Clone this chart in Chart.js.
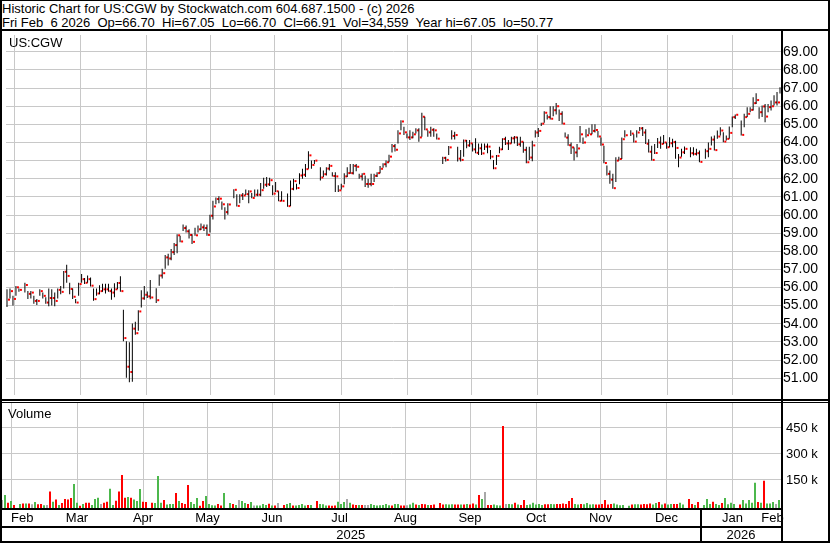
<!DOCTYPE html>
<html lang="en">
<head>
<meta charset="UTF-8">
<title>Historic Chart for US:CGW</title>
<script src="https://cdn.jsdelivr.net/npm/chart.js"></script>
<style>
    body { margin: 0; background: #fff; font-family: "Liberation Sans", Arial, sans-serif; }
    #frame { position: relative; width: 830px; height: 543px; overflow: hidden; }
    .ln { position: absolute; background: #000; }
    .txt { position: absolute; font-size: 13px; line-height: 13px; color: #000; white-space: pre; }
    canvas { position: absolute; }
</style>
</head>
<body>
<div id="frame">
    <div class="txt" style="left:2px; top:2px;">Historic Chart for US:CGW by Stockwatch.com 604.687.1500 - (c) 2026</div>
    <div class="txt" style="left:2px; top:16px;">Fri Feb  6 2026  Op=66.70  Hi=67.05  Lo=66.70  Cl=66.91  Vol=34,559  Year hi=67.05  lo=50.77</div>

    <canvas id="priceChart" width="826" height="368" style="left:2px; top:31px;"></canvas>
    <canvas id="volChart" width="826" height="138" style="left:2px; top:403px;"></canvas>

    <div class="txt" style="left:9px; top:36px;">US:CGW</div>
    <div class="txt" style="left:8px; top:407px;">Volume</div>

    <!-- frame lines -->
    <div class="ln" style="left:0; top:0; width:830px; height:1px;"></div>
    <div class="ln" style="left:0; top:29px; width:830px; height:2px;"></div>
    <div class="ln" style="left:0; top:0; width:2px; height:543px;"></div>
    <div class="ln" style="left:828px; top:0; width:2px; height:543px;"></div>
    <div class="ln" style="left:0; top:541px; width:830px; height:2px;"></div>
    <div class="ln" style="left:781px; top:29px; width:2px; height:514px;"></div>
    <div class="ln" style="left:0; top:399px; width:830px; height:2px;"></div>
    <div class="ln" style="left:0; top:402px; width:830px; height:1px;"></div>
    <div class="ln" style="left:0; top:508px; width:782px; height:2px;"></div>
    <div class="ln" style="left:0; top:526px; width:782px; height:2px;"></div>
</div>

<script>
    // trading calendar
    const firstDay = '2025-02-10';
    const lastDay = '2026-02-06';
    const holidays = ['2025-02-17', '2025-04-18', '2025-05-26', '2025-06-19', '2025-07-04',
        '2025-09-01', '2025-11-27', '2025-12-25', '2026-01-01', '2026-01-19'];

    const monthNames = ['Feb', 'Mar', 'Apr', 'May', 'Jun', 'Jul', 'Aug', 'Sep', 'Oct', 'Nov', 'Dec', 'Jan', 'Feb'];
    const monthStarts = ['2025-03-01', '2025-04-01', '2025-05-01', '2025-06-01', '2025-07-01', '2025-08-01',
        '2025-09-01', '2025-10-01', '2025-11-01', '2025-12-01', '2026-01-01', '2026-02-01'];
    const yearNames = ['2025', '2026'];
    const yearStart = '2026-01-01';

    const priceTicks = [51, 52, 53, 54, 55, 56, 57, 58, 59, 60, 61, 62, 63, 64, 65, 66, 67, 68, 69];
    const volTicks = [150, 300, 450];

    const highs = [
        // Feb
        55.90, 55.94, 55.54, 56.08, 55.94, 56.26, 55.81, 55.81, 55.54, 55.37, 55.90, 55.72, 55.46, 55.94,
        // Mar
        55.90, 55.72, 55.94, 56.08, 56.91, 57.25, 56.26, 55.94, 55.37, 56.26, 56.75, 56.53, 56.66, 56.55, 55.94, 55.94, 56.12, 56.21, 56.21, 56.21, 55.94,
        // Apr
        56.23, 56.30, 56.62, 54.77, 53.03, 52.98, 54.02, 54.11, 54.74, 55.85, 56.09, 55.78, 56.41, 55.96, 56.72, 57.04, 57.80, 57.86, 58.13, 58.45, 58.94,
        // May
        58.85, 59.48, 59.42, 59.21, 58.94, 59.30, 59.42, 59.53, 59.48, 59.48, 60.02, 60.79, 60.97, 61.04, 60.74, 60.43, 60.65, 61.42, 61.15, 61.15, 61.22,
        // Jun
        61.41, 61.37, 61.22, 61.41, 61.41, 61.77, 62.05, 62.09, 62.05, 61.64, 61.82, 61.31, 61.31, 61.18, 61.91, 62.00, 61.73, 62.31, 62.55, 62.82,
        // Jul
        63.51, 63.00, 63.04, 62.64, 62.45, 62.64, 62.82, 62.36, 62.36, 61.64, 61.73, 62.31, 62.64, 62.82, 62.82, 62.82, 62.27, 62.31, 62.18, 62.00, 62.27, 62.27,
        // Aug
        62.36, 62.70, 62.85, 63.00, 63.33, 63.91, 63.91, 64.68, 65.23, 64.87, 64.50, 64.68, 64.59, 64.78, 64.78, 65.64, 65.42, 64.68, 64.87, 64.78, 64.50,
        // Sep
        63.22, 63.22, 63.81, 64.68, 64.59, 63.77, 63.59, 64.17, 64.14, 64.14, 63.95, 64.23, 63.95, 63.95, 63.95, 63.95, 63.59, 63.04, 63.31, 63.77, 64.23,
        // Oct
        64.32, 64.14, 64.32, 64.36, 64.32, 64.32, 64.04, 63.77, 63.77, 64.09, 64.67, 64.80, 65.09, 65.73, 65.55, 66.00, 66.00, 66.18, 65.82, 65.73, 64.55, 64.45, 64.00,
        // Nov
        63.73, 63.91, 64.91, 64.27, 64.73, 64.82, 65.00, 65.00, 64.64, 64.27, 63.82, 62.73, 62.45, 62.27, 63.18, 63.22, 64.27, 64.67, 64.67,
        // Dec
        64.45, 64.67, 64.85, 64.85, 64.73, 64.18, 63.82, 63.91, 64.25, 64.33, 64.42, 64.00, 64.29, 64.20, 64.10, 63.37, 63.65, 63.78, 63.74, 63.74, 63.65, 63.56,
        // Jan
        63.65, 64.00, 64.33, 64.38, 64.66, 64.84, 64.57, 64.38, 64.88, 65.43, 65.55, 65.21, 65.58, 65.95, 65.95, 66.50, 66.72, 65.95, 66.04, 66.13,
        // Feb
        66.13, 66.32, 66.60, 66.78, 67.05
    ];

    const lows = [
        // Feb
        54.92, 55.40, 55.01, 55.54, 55.76, 55.72, 55.37, 55.40, 55.10, 55.04, 55.54, 55.40, 55.10, 54.97,
        // Mar
        55.01, 54.97, 55.40, 55.63, 55.94, 56.26, 55.63, 55.37, 55.13, 55.54, 56.26, 56.19, 56.26, 56.05, 55.27, 55.54, 55.63, 55.76, 55.67, 55.76, 55.33,
        // Apr
        55.46, 55.90, 55.76, 53.03, 51.02, 50.77, 50.80, 53.39, 53.61, 54.90, 55.33, 55.42, 55.35, 55.15, 56.10, 56.50, 57.04, 57.22, 57.50, 57.80, 57.89,
        // May
        58.49, 59.12, 59.03, 58.70, 58.40, 58.85, 59.03, 59.17, 59.12, 58.85, 59.03, 59.75, 60.59, 60.65, 60.29, 59.75, 60.02, 60.92, 60.47, 60.65, 60.83,
        // Jun
        61.10, 60.65, 60.92, 61.01, 61.04, 61.04, 61.45, 61.55, 61.60, 61.09, 61.27, 60.76, 60.76, 60.45, 60.49, 61.36, 61.40, 61.69, 62.00, 62.09,
        // Jul
        62.55, 62.55, 62.82, 61.91, 62.09, 62.18, 62.45, 62.13, 61.27, 61.27, 61.40, 61.69, 62.09, 62.27, 62.24, 62.42, 62.00, 61.91, 61.55, 61.51, 61.58, 61.82,
        // Aug
        62.09, 62.30, 62.60, 62.64, 62.91, 63.45, 63.50, 63.95, 64.68, 64.41, 64.23, 64.14, 64.23, 64.50, 64.04, 64.32, 64.68, 64.32, 64.32, 64.32, 64.17,
        // Sep
        62.82, 62.95, 63.31, 64.17, 64.17, 62.95, 62.95, 63.22, 63.68, 63.77, 63.50, 63.40, 63.31, 63.31, 63.59, 63.40, 63.08, 62.53, 62.76, 63.40, 63.59,
        // Oct
        63.86, 63.59, 63.95, 63.95, 63.81, 63.77, 63.44, 62.86, 63.04, 62.96, 64.27, 64.30, 64.91, 65.09, 65.27, 65.27, 65.45, 65.55, 65.18, 65.00, 64.27, 63.82, 63.36,
        // Nov
        63.00, 63.18, 64.00, 63.91, 64.27, 64.45, 64.45, 64.55, 64.27, 63.82, 62.85, 62.18, 61.73, 61.45, 61.82, 63.00, 63.09, 64.27, 64.36,
        // Dec
        64.00, 64.27, 64.64, 64.36, 63.91, 63.45, 63.00, 63.36, 63.70, 63.65, 63.92, 63.65, 63.74, 63.74, 63.10, 62.64, 63.22, 63.37, 63.19, 63.28, 63.28, 62.91,
        // Jan
        63.10, 63.19, 63.83, 63.56, 64.20, 64.38, 64.02, 64.11, 64.20, 64.84, 65.30, 64.38, 64.84, 65.40, 65.67, 65.77, 66.13, 65.31, 65.40, 65.12,
        // Feb
        65.67, 65.77, 66.04, 66.04, 66.70
    ];

    const closes = [
        // Feb
        55.33, 55.80, 55.37, 56.01, 55.87, 56.14, 55.65, 55.72, 55.26, 55.26, 55.80, 55.54, 55.17, 55.42,
        // Mar
        55.42, 55.26, 55.87, 55.76, 56.87, 56.64, 55.92, 55.49, 55.17, 56.19, 56.46, 56.26, 56.46, 56.10, 55.36, 55.67, 55.80, 55.90, 55.90, 55.80, 55.72,
        // Apr
        55.90, 56.25, 55.80, 53.21, 51.63, 51.34, 53.73, 53.48, 54.68, 55.40, 55.60, 55.51, 55.45, 55.30, 56.66, 56.79, 57.66, 57.60, 57.95, 58.34, 58.88,
        // May
        58.54, 59.28, 59.10, 58.90, 58.52, 58.88, 59.21, 59.32, 59.28, 58.90, 59.96, 60.47, 60.88, 60.90, 60.59, 60.16, 60.58, 61.39, 60.50, 61.08, 61.08,
        // Jun
        61.15, 61.30, 60.94, 61.12, 61.12, 61.37, 61.67, 61.69, 61.92, 61.18, 61.31, 60.78, 60.78, 60.49, 61.44, 61.87, 61.49, 62.18, 62.22, 62.53,
        // Jul
        63.29, 62.76, 63.00, 62.07, 62.25, 62.56, 62.71, 62.15, 62.13, 61.36, 61.58, 62.13, 62.31, 62.31, 62.71, 62.66, 62.13, 62.27, 61.71, 61.71, 61.71, 62.16,
        // Aug
        62.31, 62.55, 62.80, 62.91, 63.22, 63.80, 63.60, 64.50, 65.16, 64.56, 64.28, 64.28, 64.45, 64.67, 64.28, 65.42, 64.72, 64.56, 64.70, 64.67, 64.21,
        // Sep
        63.15, 63.04, 63.73, 64.36, 64.41, 63.11, 63.04, 64.10, 63.84, 63.95, 63.62, 63.43, 63.68, 63.40, 63.77, 63.77, 63.22, 62.58, 63.26, 63.62, 64.19,
        // Oct
        63.95, 63.95, 64.23, 64.28, 63.90, 64.04, 63.59, 62.91, 63.17, 63.84, 64.55, 64.64, 65.04, 65.64, 65.40, 65.31, 65.78, 66.00, 65.58, 65.04, 64.27, 63.85, 63.73,
        // Nov
        63.45, 63.67, 64.45, 64.00, 64.40, 64.45, 64.64, 64.69, 64.33, 63.89, 62.87, 62.27, 61.95, 61.48, 63.00, 63.09, 64.18, 64.40, 64.49,
        // Dec
        64.05, 64.55, 64.78, 64.55, 63.93, 63.49, 63.04, 63.42, 64.00, 63.92, 64.00, 63.74, 63.96, 64.02, 63.70, 63.17, 63.46, 63.65, 63.41, 63.37, 63.41, 62.93,
        // Jan
        63.52, 63.65, 64.16, 63.58, 64.33, 64.66, 64.05, 64.20, 64.53, 65.40, 65.53, 64.42, 65.40, 65.58, 65.80, 66.17, 66.34, 65.67, 65.99, 65.43,
        // Feb
        65.95, 66.00, 66.21, 66.21, 66.91
    ];

    // volume in thousands of shares
    const volumes = [
        // Feb
        35, 63, 19, 29, 6, 12, 15, 15, 15, 10, 23, 10, 12, 4,
        // Mar
        6, 83, 25, 38, 6, 17, 40, 38, 46, 127, 19, 2, 12, 19, 19, 6, 40, 48, 12, 19, 25,
        // Apr
        100, 6, 31, 83, 179, 48, 52, 48, 38, 29, 98, 25, 23, 19, 17, 173, 19, 35, 8, 12, 12,
        // May
        75, 29, 17, 12, 121, 23, 12, 46, 2, 29, 58, 12, 4, 3, 12, 3, 75, 17, 12, 6, 35,
        // Jun
        29, 17, 12, 23, 3, 3, 3, 12, 6, 13, 3, 3, 17, 6, 12, 17, 3, 3, 6, 12,
        // Jul
        3, 6, 6, 29, 12, 10, 3, 3, 2, 3, 25, 12, 23, 40, 19, 8, 6, 6, 6, 6, 6, 12,
        // Aug
        6, 3, 4, 6, 12, 4, 3, 12, 12, 3, 3, 4, 8, 19, 8, 6, 12, 10, 6, 6, 8,
        // Sep
        17, 8, 10, 8, 10, 8, 8, 8, 8, 12, 8, 15, 8, 63, 40, 81, 6, 6, 8, 4, 3,
        // Oct
        462, 12, 12, 10, 19, 8, 6, 35, 6, 8, 19, 8, 12, 6, 10, 10, 12, 10, 12, 12, 15, 12, 29,
        // Nov
        46, 12, 8, 12, 10, 17, 8, 10, 8, 8, 12, 35, 8, 12, 15, 8, 4, 6, 2,
        // Dec
        8, 10, 10, 8, 12, 10, 15, 8, 17, 23, 8, 15, 8, 12, 12, 12, 19, 8, 40, 12, 6, 23,
        // Jan
        6, 40, 12, 25, 12, 6, 17, 46, 10, 19, 12, 8, 35, 15, 35, 19, 134, 23, 19, 146,
        // Feb
        15, 15, 23, 12, 35
    ];

    const upColor = '#4cb84c';
    const downColor = '#ff0000';
    const flatColor = '#a8a8a8';
    const gridColor = '#c8c8c8';
    const fontFamily = "'Liberation Sans', Arial, sans-serif";
    const labelFont = { family: fontFamily, size: 13 };
    const priceFont = { family: fontFamily, size: 14 };

    // every weekday gets a slot, holidays stay empty
    function isoDay(d) { return d.toISOString().slice(0, 10); }
    const slotDates = [];
    for (let d = new Date(firstDay + 'T00:00:00Z'); isoDay(d) <= lastDay; d.setUTCDate(d.getUTCDate() + 1)) {
        const wd = d.getUTCDay();
        if (wd > 0 && wd < 6) slotDates.push(isoDay(d));
    }
    const tradeSlots = [];
    slotDates.forEach((d, i) => { if (!holidays.includes(d)) tradeSlots.push(i); });

    // month line sits before the weekday that holds day 1 (weekends fall back to Friday)
    function lineSlot(dayStr) {
        const d = new Date(dayStr + 'T00:00:00Z');
        const wd = d.getUTCDay();
        if (wd === 6) d.setUTCDate(d.getUTCDate() - 1);
        if (wd === 0) d.setUTCDate(d.getUTCDate() - 2);
        return slotDates.indexOf(isoDay(d)) - 0.5;
    }
    const monthLines = monthStarts.map(lineSlot);
    const yearLine = lineSlot(yearStart);

    const gridMin = -0.5;
    const gridMax = gridMin + 779 / 3;
    const leftEdge = -1;
    const monthEdges = [leftEdge, ...monthLines, gridMax];
    const monthMids = monthNames.map((m, i) => (monthEdges[i] + monthEdges[i + 1]) / 2);
    const yearMids = [(leftEdge + yearLine) / 2, (yearLine + gridMax) / 2];

    const priceBars = tradeSlots.map((s, i) => ({ x: s, y: [lows[i], highs[i]] }));
    const closePts = tradeSlots.map((s, i) => ({ x: s, y: closes[i] }));
    const volBars = tradeSlots.map((s, i) => ({ x: s, y: volumes[i] }));
    const volColors = closes.map((c, i) => {
        if (i === 0 || c === closes[i - 1]) return flatColor;
        return c > closes[i - 1] ? upColor : downColor;
    });

    // keep the plot areas exactly where the frame is: no label overhang padding
    const noAxisBox = s => { s.height = 0; s.paddingLeft = 0; s.paddingRight = 0; };
    const sideAxis = s => { s.width = 47; s.paddingTop = 0; s.paddingBottom = 0; };
    const labelRow = h => s => { s.height = h; s.paddingLeft = 0; s.paddingRight = 0; };

    new Chart(document.getElementById('priceChart'), {
        type: 'bar',
        data: {
            datasets: [{
                type: 'bar',
                data: priceBars,
                backgroundColor: '#000',
                barThickness: 1,
                inflateAmount: 0,
                borderWidth: 0
            }, {
                // close tick: a 2px square just right of the bar (its own axis, half a slot over)
                type: 'scatter',
                data: closePts,
                xAxisID: 'xc',
                pointStyle: 'rect',
                pointRadius: Math.SQRT2,
                pointBorderWidth: 0,
                pointBackgroundColor: '#ff0000'
            }]
        },
        options: {
            responsive: false,
            animation: false,
            events: [],
            layout: { padding: 0 },
            plugins: { legend: { display: false }, tooltip: { enabled: false } },
            scales: {
                x: {
                    type: 'linear', min: gridMin, max: gridMax, offset: false,
                    grid: { color: gridColor, drawTicks: false },
                    border: { display: false },
                    ticks: { display: false },
                    afterBuildTicks: s => { s.ticks = monthLines.map(v => ({ value: v })); },
                    afterFit: noAxisBox
                },
                xc: { type: 'linear', min: gridMin - 0.5, max: gridMax - 0.5, offset: false, display: false },
                y: {
                    position: 'right', min: 50.07, max: 69.93,
                    grid: { color: gridColor, drawTicks: false },
                    border: { display: false },
                    ticks: {
                        font: priceFont, color: '#000', padding: 2, autoSkip: false,
                        callback: v => v.toFixed(2)
                    },
                    afterBuildTicks: s => { s.ticks = priceTicks.map(v => ({ value: v })); },
                    afterFit: sideAxis
                }
            }
        }
    });

    const yearDivider = {
        id: 'yearDivider',
        afterDraw(chart) {
            const x = Math.round(chart.scales.xg.getPixelForValue(yearLine));
            const ctx = chart.ctx;
            ctx.save();
            ctx.fillStyle = '#000';
            ctx.fillRect(x - 1, chart.chartArea.bottom, 2, chart.height - chart.chartArea.bottom);
            ctx.restore();
        }
    };

    new Chart(document.getElementById('volChart'), {
        type: 'bar',
        data: {
            datasets: [{
                data: volBars,
                backgroundColor: volColors,
                barThickness: 2,
                inflateAmount: 0,
                borderWidth: 0,
                base: -11.54,
                xAxisID: 'x',
                yAxisID: 'y'
            }]
        },
        options: {
            responsive: false,
            animation: false,
            events: [],
            layout: { padding: 0 },
            plugins: { legend: { display: false }, tooltip: { enabled: false } },
            scales: {
                x: { type: 'linear', min: 0, max: 779 / 3, offset: false, display: false },
                xg: {
                    type: 'linear', position: 'bottom', weight: 0, min: gridMin, max: gridMax, offset: false,
                    grid: { color: gridColor, drawTicks: false },
                    border: { display: false },
                    ticks: { display: false },
                    afterBuildTicks: s => { s.ticks = monthLines.map(v => ({ value: v })); },
                    afterFit: noAxisBox
                },
                xm: {
                    type: 'linear', position: 'bottom', weight: 1, min: gridMin, max: gridMax, offset: false,
                    grid: { display: false, drawTicks: false },
                    border: { display: false },
                    ticks: {
                        font: labelFont, color: '#000', padding: 3, autoSkip: false, maxRotation: 0,
                        callback: (v, i) => monthNames[i]
                    },
                    afterBuildTicks: s => { s.ticks = monthMids.map(v => ({ value: v })); },
                    afterFit: labelRow(18)
                },
                xy: {
                    type: 'linear', position: 'bottom', weight: 2, min: gridMin, max: gridMax, offset: false,
                    grid: { display: false, drawTicks: false },
                    border: { display: false },
                    ticks: {
                        font: labelFont, color: '#000', padding: 2, autoSkip: false, maxRotation: 0,
                        callback: (v, i) => yearNames[i]
                    },
                    afterBuildTicks: s => { s.ticks = yearMids.map(v => ({ value: v })); },
                    afterFit: labelRow(15)
                },
                y: {
                    position: 'right', min: -11.54, max: 594.2,
                    grid: { color: gridColor, drawTicks: false },
                    border: { display: false },
                    ticks: {
                        font: labelFont, color: '#000', padding: 5, autoSkip: false,
                        callback: v => v + ' k'
                    },
                    afterBuildTicks: s => { s.ticks = volTicks.map(v => ({ value: v })); },
                    afterFit: sideAxis
                }
            }
        },
        plugins: [yearDivider]
    });
</script>
</body>
</html>
